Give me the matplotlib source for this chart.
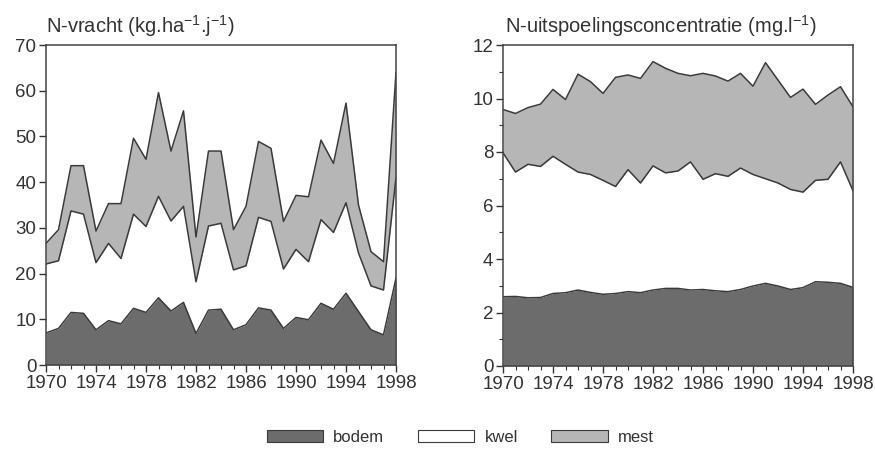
import matplotlib
matplotlib.use('Agg')
import matplotlib.pyplot as plt
from matplotlib.patches import Patch
from matplotlib.ticker import MultipleLocator
import numpy as np

years = np.arange(1970, 1999)

# N-vracht (kg/ha/j), cumulative boundaries
vracht_bodem = [7, 8, 11.5, 11.3, 7.7, 9.7, 9, 12.4, 11.5, 14.7, 11.8, 13.7, 6.9, 12, 12.2,
                7.7, 8.8, 12.5, 12, 8, 10.4, 9.9, 13.5, 12.2, 15.7, 11.7, 7.7, 6.6, 19]
vracht_kwel = [22.1, 22.8, 33.7, 33, 22.4, 26.6, 23.3, 33, 30.3, 36.9, 31.5, 34.7, 18.2, 30.4, 31,
               20.8, 21.7, 32.3, 31.4, 21, 25.3, 22.6, 31.8, 29, 35.5, 24.5, 17.3, 16.4, 41]
vracht_mest = [26.6, 29.6, 43.6, 43.6, 29.3, 35.3, 35.3, 49.6, 45, 59.6, 46.8, 55.6, 28, 46.8, 46.8,
               29.6, 34.7, 48.9, 47.4, 31.4, 37.1, 36.8, 49.2, 44.1, 57.3, 35, 24.8, 22.6, 64]

# N-uitspoelingsconcentratie (mg/l), cumulative boundaries
conc_bodem = [2.59, 2.6, 2.55, 2.56, 2.71, 2.74, 2.84, 2.75, 2.68, 2.71, 2.78, 2.74, 2.84, 2.9, 2.9,
              2.84, 2.86, 2.81, 2.78, 2.86, 2.99, 3.09, 2.99, 2.86, 2.93, 3.15, 3.13, 3.09, 2.94]
conc_kwel = [7.97, 7.25, 7.54, 7.46, 7.84, 7.54, 7.25, 7.16, 6.94, 6.71, 7.34, 6.84, 7.48, 7.22, 7.29,
             7.63, 6.98, 7.19, 7.09, 7.4, 7.16, 7.0, 6.84, 6.6, 6.5, 6.94, 6.98, 7.63, 6.55]
conc_mest = [9.59, 9.44, 9.66, 9.79, 10.34, 9.96, 10.91, 10.63, 10.19, 10.79, 10.88, 10.75, 11.38, 11.13, 10.94,
             10.85, 10.94, 10.84, 10.65, 10.94, 10.46, 11.34, 10.69, 10.04, 10.35, 9.78, 10.13, 10.44, 9.69]

labels = ['bodem', 'kwel', 'mest']
colors = ['#6c6c6c', '#ffffff', '#b6b6b6']
edge = '#3a3a3a'
txt = '#333333'

plt.rcParams['font.family'] = ['Liberation Sans', 'DejaVu Sans']
plt.rcParams['mathtext.default'] = 'regular'

fig = plt.figure(figsize=(8.75, 4.5), dpi=100)
ax1 = fig.add_axes([46 / 875, 1 - 365 / 450, 350 / 875, 320 / 450])
ax2 = fig.add_axes([503 / 875, 1 - 366 / 450, 350 / 875, 321 / 450])


def stacked(ax, bodem, kwel, mest):
    ax.fill_between(years, 0, bodem, color=colors[0], lw=0)
    ax.fill_between(years, bodem, kwel, color=colors[1], lw=0)
    ax.fill_between(years, kwel, mest, color=colors[2], lw=0)
    for s in (bodem, kwel, mest):
        ax.plot(years, s, color=edge, lw=1.1)
    ax.set_xlim(1970, 1998)
    ax.set_xticks(np.arange(1970, 1999, 4))
    ax.xaxis.set_minor_locator(MultipleLocator(1))
    ax.tick_params(direction='out', labelsize=13.5, length=5, width=1, colors=txt, pad=2)
    ax.tick_params(which='minor', direction='out', length=3, width=0.8, colors=txt)
    for sp in ax.spines.values():
        sp.set_color('#444444')
        sp.set_linewidth(1.1)


stacked(ax1, vracht_bodem, vracht_kwel, vracht_mest)
ax1.set_ylim(0, 70)
ax1.set_yticks(np.arange(0, 71, 10))
ax1.text(0, 1.02, 'N-vracht (kg.ha$^{-1}$.j$^{-1}$)', transform=ax1.transAxes,
         fontsize=14.5, color=txt, ha='left', va='bottom')

stacked(ax2, conc_bodem, conc_kwel, conc_mest)
ax2.set_ylim(0, 12)
ax2.set_yticks(np.arange(0, 13, 2))
ax2.yaxis.set_minor_locator(MultipleLocator(1))
ax2.text(0.005, 1.02, 'N-uitspoelingsconcentratie (mg.l$^{-1}$)', transform=ax2.transAxes,
         fontsize=14.5, color=txt, ha='left', va='bottom')

handles = [Patch(facecolor=c, edgecolor=edge, lw=0.8) for c in colors]
fig.legend(handles, labels, loc='center', bbox_to_anchor=(0.526, 1 - 437 / 450), ncol=3,
           frameon=False, fontsize=12, handlelength=3.4, handleheight=0.75,
           columnspacing=2.0, handletextpad=0.6, labelcolor=txt)

fig.savefig('out.png', dpi=100)
